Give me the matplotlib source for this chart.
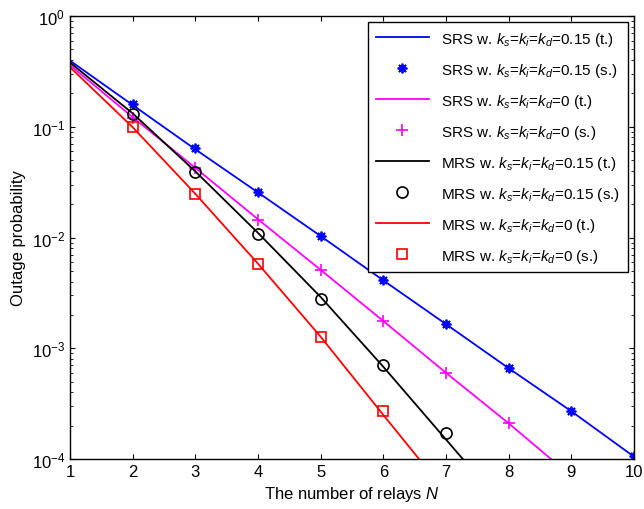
import numpy as np
import matplotlib
matplotlib.use("Agg")
import matplotlib.pyplot as plt

plt.rcParams["font.family"] = ["Liberation Sans", "DejaVu Sans"]
plt.rcParams["mathtext.fontset"] = "custom"
plt.rcParams["mathtext.rm"] = "Liberation Sans"
plt.rcParams["mathtext.it"] = "Liberation Sans:italic"
plt.rcParams["mathtext.default"] = "regular"

# theoretical curves, N = 1..10
n_theory = [1, 2, 3, 4, 5, 6, 7, 8, 9, 10]
srs_015_t = [0.395, 0.157, 0.0625, 0.0255, 0.0103, 0.0041, 0.00165, 0.00066, 0.00027, 0.000105]
srs_0_t = [0.36, 0.122, 0.0425, 0.0146, 0.0051, 0.00176, 0.0006, 0.00021, 0.00007, 0.000024]
mrs_015_t = [0.38, 0.132, 0.0395, 0.011, 0.0029, 0.00068, 0.00015, 0.000033, 0.000007, 0.0000015]
mrs_0_t = [0.345, 0.099, 0.0248, 0.0058, 0.00127, 0.00025, 0.00005, 0.00001, 0.000002, 0.0000004]

# simulation points
n_srs_015 = [2, 3, 4, 5, 6, 7, 8, 9, 10]
srs_015_s = [0.162, 0.064, 0.026, 0.0103, 0.0041, 0.00165, 0.00066, 0.00027, 0.000106]
n_srs_0 = [2, 3, 4, 5, 6, 7, 8]
srs_0_s = [0.12, 0.042, 0.0145, 0.0051, 0.00175, 0.0006, 0.00021]
n_mrs_015 = [2, 3, 4, 5, 6, 7]
mrs_015_s = [0.13, 0.039, 0.0108, 0.0028, 0.0007, 0.00017]
n_mrs_0 = [2, 3, 4, 5, 6]
mrs_0_s = [0.099, 0.0248, 0.0058, 0.00127, 0.00027]

lab = r"w. $\it{k_s}$=$\it{k_i}$=$\it{k_d}$="

fig = plt.figure(figsize=(6.44, 5.10), dpi=100)
ax = fig.add_axes([0.1087, 0.098, 0.8758, 0.8687])

ax.semilogy(n_theory, srs_015_t, color="blue", lw=1.3, label="SRS " + lab + "0.15 (t.)")
ax.semilogy(n_srs_015, srs_015_s, ls="none", marker=(8, 2, 0), ms=7, mew=1.3,
            color="blue", label="SRS " + lab + "0.15 (s.)")
ax.semilogy(n_theory, srs_0_t, color="magenta", lw=1.3, label="SRS " + lab + "0 (t.)")
ax.semilogy(n_srs_0, srs_0_s, ls="none", marker="+", ms=9, mew=1.2,
            color="magenta", label="SRS " + lab + "0 (s.)")
ax.semilogy(n_theory, mrs_015_t, color="black", lw=1.3, label="MRS " + lab + "0.15 (t.)")
ax.semilogy(n_mrs_015, mrs_015_s, ls="none", marker="o", ms=8, mew=1.2, mfc="none",
            color="black", label="MRS " + lab + "0.15 (s.)")
ax.semilogy(n_theory, mrs_0_t, color="red", lw=1.3, label="MRS " + lab + "0 (t.)")
ax.semilogy(n_mrs_0, mrs_0_s, ls="none", marker="s", ms=7, mew=1.2, mfc="none",
            color="red", label="MRS " + lab + "0 (s.)")

ax.set_xlim(1, 10)
ax.set_ylim(1e-4, 1)
ax.set_xticks(range(1, 11))
ax.tick_params(which="both", direction="in", top=True, right=True, labelsize=12)
ax.tick_params(axis="x", which="minor", bottom=False, top=False)
ax.set_xlabel(r"The number of relays $\it{N}$", fontsize=12)
ax.set_ylabel("Outage probability", fontsize=12)
for s in ax.spines.values():
    s.set_linewidth(1.0)

leg = ax.legend(loc="upper right", fontsize=11, frameon=True, fancybox=False,
                edgecolor="black", framealpha=1, borderaxespad=0.4,
                handlelength=3.5, labelspacing=0.85, borderpad=0.5)
leg.get_frame().set_linewidth(1.0)

fig.savefig("out.png", dpi=100)
